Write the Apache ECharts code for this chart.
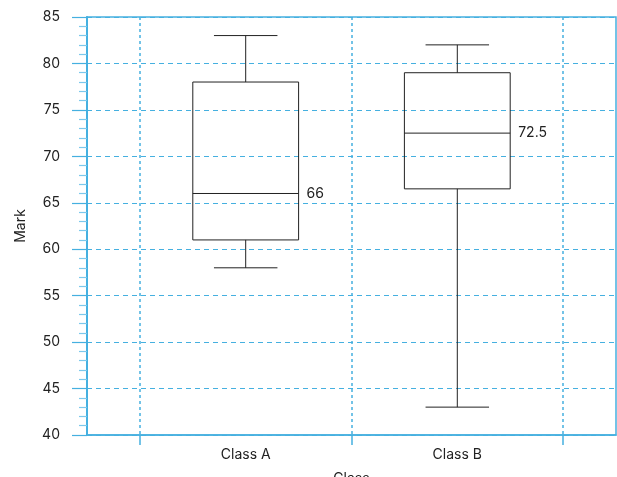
<!DOCTYPE html>
<html>
<head>
<meta charset="utf-8">
<script src="https://cdn.jsdelivr.net/npm/echarts@6/dist/echarts.min.js"></script>
<style>html,body{margin:0;padding:0;background:#fff;}#c{width:617px;height:477px;}</style>
</head>
<body>
<div id="c"></div>
<script>
var categories = ['Class A', 'Class B'];
var mins = [58, 43];
var q1s = [61, 66.5];
var medians = [66, 72.5];
var q3s = [78, 79];
var maxs = [83, 82];
var medianLabels = ['66', '72.5'];
var yTicks = [40, 45, 50, 55, 60, 65, 70, 75, 80, 85];

var gridColor = '#45b0e0';
var fontFam = 'Inter, Roboto, sans-serif';

var data = categories.map(function (c, i) {
  return [i + 0.5, mins[i], q1s[i], medians[i], q3s[i], maxs[i], i];
});

function renderItem(params, api) {
  var x = api.value(0);
  var pMin = api.coord([x, api.value(1)]);
  var pQ1 = api.coord([x, api.value(2)]);
  var pMed = api.coord([x, api.value(3)]);
  var pQ3 = api.coord([x, api.value(4)]);
  var pMax = api.coord([x, api.value(5)]);
  var boxW = api.size([0.5, 0])[0];
  var capW = api.size([0.3, 0])[0];
  var cx = pMed[0];
  var bl = cx - boxW / 2, br = cx + boxW / 2;
  var cl = cx - capW / 2, cr = cx + capW / 2;
  var st = { stroke: '#222', lineWidth: 1, fill: null };
  var idx = api.value(6);
  return {
    type: 'group',
    children: [
      { type: 'rect', shape: { x: bl, y: pQ3[1], width: boxW, height: pQ1[1] - pQ3[1] }, style: { stroke: '#222', lineWidth: 1, fill: 'transparent' } },
      { type: 'line', shape: { x1: bl, y1: pMed[1], x2: br, y2: pMed[1] }, style: st },
      { type: 'line', shape: { x1: cx, y1: pQ3[1], x2: cx, y2: pMax[1] }, style: st },
      { type: 'line', shape: { x1: cx, y1: pQ1[1], x2: cx, y2: pMin[1] }, style: st },
      { type: 'line', shape: { x1: cl, y1: pMax[1], x2: cr, y2: pMax[1] }, style: st },
      { type: 'line', shape: { x1: cl, y1: pMin[1], x2: cr, y2: pMin[1] }, style: st },
      { type: 'text', x: br + 7, y: pMed[1], style: { text: medianLabels[idx], fill: '#222', fontSize: 14, fontFamily: fontFam, verticalAlign: 'middle', align: 'left', backgroundColor: '#fff', padding: [1, 1] } }
    ]
  };
}

var chart = echarts.init(document.getElementById('c'));
chart.setOption({
  animation: false,
  grid: { left: 87, right: 1, top: 17, bottom: 42, outerBoundsMode: 'none', containLabel: false, show: true, borderColor: gridColor, borderWidth: 1.5, backgroundColor: 'transparent' },
  xAxis: {
    type: 'value', min: -0.25, max: 2.25,
    name: 'Class', nameLocation: 'middle', nameGap: 37,
    nameTextStyle: { fontSize: 14, color: '#222', fontFamily: fontFam },
    axisLine: { show: true, onZero: false, lineStyle: { color: gridColor, width: 1.5 } },
    axisTick: { show: true, customValues: [0, 1, 2], length: 10, lineStyle: { color: gridColor, width: 1.5 } },
    axisLabel: { customValues: [0.5, 1.5], margin: 13, fontSize: 14, color: '#222', fontFamily: fontFam,
      formatter: function (v) { return categories[Math.round(v - 0.5)]; } },
    splitLine: { show: true, lineStyle: { color: gridColor, type: [3, 3], width: 1.5 } }
  },
  yAxis: {
    type: 'value', min: yTicks[0], max: yTicks[yTicks.length - 1], interval: 5,
    name: 'Mark', nameLocation: 'middle', nameGap: 59,
    nameTextStyle: { fontSize: 14, color: '#222', fontFamily: fontFam },
    axisLine: { show: true, onZero: false, lineStyle: { color: gridColor, width: 2 } },
    axisTick: { show: true, length: 15, lineStyle: { color: gridColor, width: 1.2 } },
    minorTick: { show: true, splitNumber: 5, length: 8, lineStyle: { color: '#7cc8ec', width: 1.2 } },
    axisLabel: { margin: 27, fontSize: 14, color: '#222', fontFamily: fontFam },
    splitLine: { show: true, lineStyle: { color: gridColor, type: [5, 4], width: 1 } }
  },
  series: [{
    type: 'custom',
    renderItem: renderItem,
    encode: { x: 0, y: [1, 2, 3, 4, 5] },
    data: data,
    clip: false
  }]
});
</script>
</body>
</html>
